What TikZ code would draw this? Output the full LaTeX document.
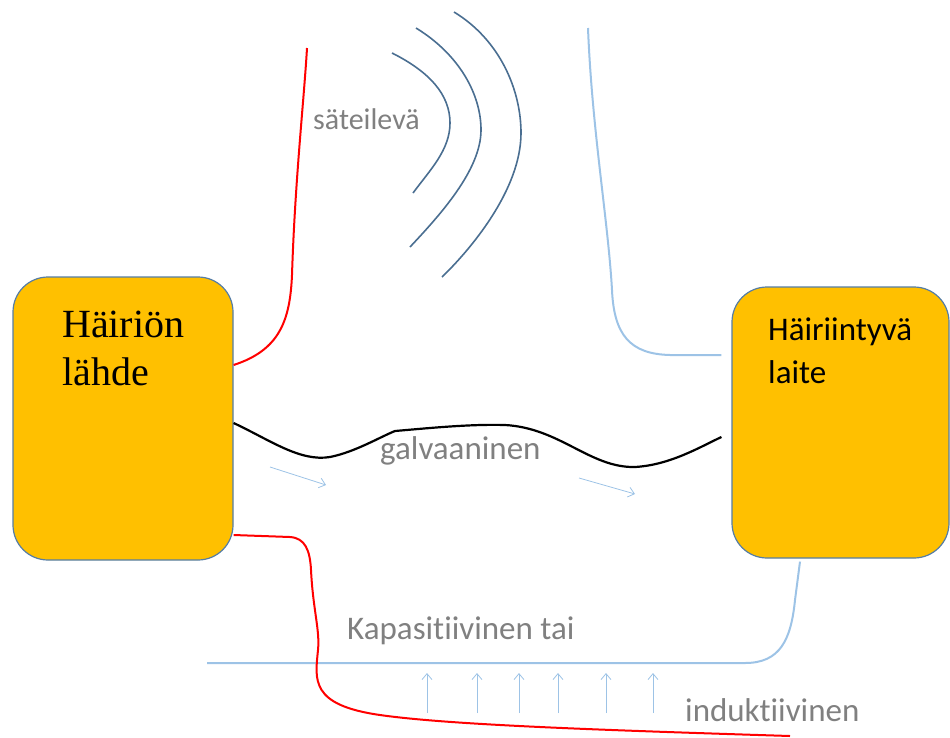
\documentclass[tikz,border=0pt]{standalone}
\usepackage{fontspec}
\setmainfont{Carlito}[Ligatures=NoCommon]
\newfontfamily\timesfont{Liberation Serif}
\usepackage{tikz}
\usetikzlibrary{positioning,calc,arrows.meta}
\definecolor{boxfill}{RGB}{255,192,0}
\definecolor{boxline}{RGB}{85,125,165}
\definecolor{lblue}{RGB}{157,195,230}
\definecolor{wave}{RGB}{74,110,145}
\definecolor{lbl}{RGB}{128,128,128}

\begin{document}
\begin{tikzpicture}[x=1pt,y=-1pt,
 b/.style={draw=boxline,line width=1.2pt,fill=boxfill,rounded corners=35pt,minimum width=220pt,minimum height=283pt,inner sep=0pt},
 t/.style={anchor=base west,inner sep=0pt,text=lbl,font=\fontsize{33}{40}\selectfont},
 rd/.style={red,line width=2pt},
 bl/.style={lblue,line width=2pt},
 wv/.style={wave,line width=1.6pt},
 ar/.style={lblue,line width=0.8pt,-{Straight Barb[length=6pt,width=10pt]}}]
\useasboundingbox (0,0) rectangle (950,737);
% laatikot
\node[b] (src) at (123,418.5) {};
\node[b,minimum width=217pt,minimum height=271pt] (dev) at (840.5,422.5) {};
\node[anchor=base west,inner sep=0pt,align=left,font=\timesfont\fontsize{40}{48}\selectfont] (srct) at (62,385) {Häiriön\\lähde};
\node[anchor=base west,inner sep=0pt,align=left,font=\fontsize{33}{43}\selectfont] (devt) at (768,383) {Häiriintyvä\\laite};
% vapaat päät
\coordinate (redtop) at (307,48);
\coordinate (bluetop) at (588,28);
\coordinate (redend) at (790,736);
\coordinate (blueend) at (207,663);
% säteilevä
\draw[rd] ([yshift=53.5pt]src.east) .. controls (280,350) and (290,320) .. (292,275) .. controls (295,180) and (304,100) .. (redtop);
\draw[bl] ([xshift=-10pt,yshift=67.5pt]dev.west) -- (670,355) .. controls (630,354) and (614,335) .. (612,290) .. controls (608,220) and (592,130) .. (bluetop);
\draw[wv] (392,53) .. controls (430,72) and (450,95) .. (450,123) .. controls (450,150) and (430,170) .. (413,193);
\draw[wv] (416,28) .. controls (460,55) and (481,95) .. (481,130) .. controls (481,170) and (440,215) .. (410,247);
\draw[wv] (454,12) .. controls (500,40) and (521,90) .. (521,133) .. controls (521,190) and (470,250) .. (442,277);
\node[t,font=\fontsize{30}{36}\selectfont] (sat) at (313,129) {säteilevä};
% galvaaninen
\draw[line width=2.2pt] ([yshift=-4.5pt]src.east) .. controls (270,440) and (300,462) .. (330,457) .. controls (355,452) and (380,437) .. (395,431) .. controls (430,428) and (470,424) .. (505,425) .. controls (560,428) and (590,468) .. (635,467) .. controls (670,465) and (700,447) .. ([xshift=-10pt,yshift=-14.5pt]dev.west);
\node[t] (gal) at (380,459) {galvaaninen};
\coordinate (a1) at (270,467); \coordinate (a2) at (326,485);
\coordinate (a3) at (579,478); \coordinate (a4) at (635,494);
\draw[ar] (a1) -- (a2);
\draw[ar] (a3) -- (a4);
% kapasitiivinen tai induktiivinen
\draw[bl] (blueend) -- (745,663) .. controls (780,663) and (791,640) .. (795,600) -- ([xshift=-40.5pt,yshift=-3pt]dev.south);
\draw[rd] ([yshift=-116.5pt]src.east) -- (290,537) .. controls (305,538) and (310,550) .. (311,570) .. controls (313,610) and (320,630) .. (318,650) .. controls (315,680) and (310,705) .. (380,715) .. controls (450,725) and (600,730) .. (redend);
\foreach \x in {427,477,519,558,606,653}
 \draw[ar] (\x,713) -- (\x,673);
\node[t] (kap) at (347,639) {Kapasitiivinen tai};
\node[t] (ind) at (685,721) {induktiivinen};
\end{tikzpicture}
\end{document}
